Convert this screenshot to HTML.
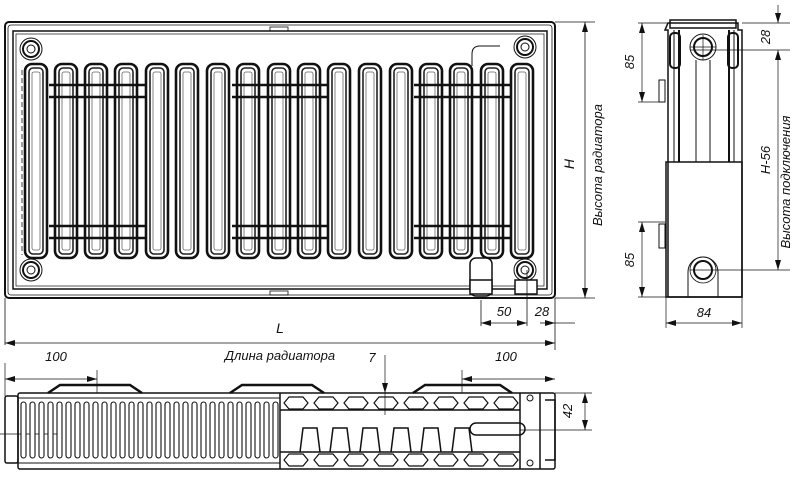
<!DOCTYPE html>
<html><head><meta charset="utf-8"><style>
html,body{margin:0;padding:0;background:#fff;width:796px;height:479px;overflow:hidden}
svg{display:block}
text{font-family:"Liberation Sans","DejaVu Sans",sans-serif;font-style:italic;fill:#111}
</style></head><body>
<svg width="796" height="479" viewBox="0 0 796 479" xmlns="http://www.w3.org/2000/svg">
<defs>
<marker id="a" viewBox="0 0 10 6" refX="10" refY="3" markerWidth="10" markerHeight="6" orient="auto-start-reverse" markerUnits="userSpaceOnUse"><path d="M0,0 L10,3 L0,6 z" fill="#111"/></marker>
<g id="tube"><rect x="0" y="0" width="22" height="194" rx="7" fill="#fff" stroke="#111" stroke-width="2.6"/><rect x="4" y="4" width="14" height="186" rx="4" fill="#fff" stroke="#222" stroke-width="1.6"/><rect x="7" y="8" width="8" height="178" rx="2" fill="#fff" stroke="#666" stroke-width="0.8"/></g>
<g id="fin"><rect x="0" y="0" width="5" height="56" rx="2.5" fill="#fff" stroke="#111" stroke-width="1.1"/></g>
<path id="hex" d="M0 7 l5-6 h14 l5 6 l-5 6 h-14 z" fill="none" stroke="#111" stroke-width="1.2"/>
</defs>
<g fill="none" stroke="#111">
<rect x="5" y="22" width="550" height="276" rx="4" stroke-width="2"/>
<rect x="8" y="25" width="544" height="270" rx="3" stroke-width="0.8"/>
<rect x="13" y="31" width="534" height="258" stroke-width="1.5"/>
<rect x="16" y="34" width="528" height="252" stroke-width="0.7"/>
<line x1="22" y1="70" x2="22" y2="255" stroke-dasharray="5,3" stroke-width="0.8"/>
<rect x="270" y="27" width="18" height="4" stroke-width="0.8"/>
<rect x="270" y="291" width="18" height="4" stroke-width="0.8"/>
</g>
<g>
<use href="#tube" x="25" y="64"/><use href="#tube" x="55" y="64"/><use href="#tube" x="85" y="64"/><use href="#tube" x="115" y="64"/><use href="#tube" x="146" y="64"/><use href="#tube" x="176" y="64"/><use href="#tube" x="207" y="64"/><use href="#tube" x="237" y="64"/><use href="#tube" x="268" y="64"/><use href="#tube" x="298" y="64"/><use href="#tube" x="328" y="64"/><use href="#tube" x="359" y="64"/><use href="#tube" x="390" y="64"/><use href="#tube" x="420" y="64"/><use href="#tube" x="450" y="64"/><use href="#tube" x="481" y="64"/><use href="#tube" x="511" y="64"/>
</g>
<g stroke="#111" stroke-width="2.5">
<line x1="49" y1="85" x2="145" y2="85"/><line x1="49" y1="97" x2="145" y2="97"/>
<line x1="49" y1="226" x2="145" y2="226"/><line x1="49" y1="238" x2="145" y2="238"/>
<line x1="232" y1="85" x2="327" y2="85"/><line x1="232" y1="97" x2="327" y2="97"/>
<line x1="232" y1="226" x2="327" y2="226"/><line x1="232" y1="238" x2="327" y2="238"/>
<line x1="414" y1="85" x2="510" y2="85"/><line x1="414" y1="97" x2="510" y2="97"/>
<line x1="414" y1="226" x2="510" y2="226"/><line x1="414" y1="238" x2="510" y2="238"/>
</g>
<g fill="#fff" stroke="#111">
<circle cx="31" cy="49" r="11" stroke-width="1"/><circle cx="31" cy="49" r="8" stroke-width="2"/><circle cx="31" cy="49" r="4"/>
<circle cx="31" cy="270" r="11" stroke-width="1"/><circle cx="31" cy="270" r="8" stroke-width="2"/><circle cx="31" cy="270" r="4"/>
<circle cx="525" cy="47" r="11" stroke-width="1"/><circle cx="525" cy="47" r="8" stroke-width="2"/><circle cx="525" cy="47" r="4"/>
<circle cx="525" cy="270" r="11" stroke-width="1"/><circle cx="525" cy="270" r="8" stroke-width="2"/><circle cx="525" cy="270" r="4"/>
<path d="M472 66 v-12 q0-8 8-8 h20" fill="none"/>
<rect x="470" y="258" width="22" height="38" rx="6" stroke-width="1.5"/>
<rect x="470" y="280" width="22" height="14" stroke-width="1.5"/>
<rect x="515" y="280" width="22" height="14" stroke-width="1.5"/>
</g>
<g stroke="#111" stroke-width="0.8" fill="none">
<line x1="555" y1="22" x2="595" y2="22"/><line x1="555" y1="298" x2="595" y2="298"/>
<line x1="585" y1="22" x2="585" y2="298" marker-start="url(#a)" marker-end="url(#a)"/>
<line x1="5" y1="298" x2="5" y2="345"/><line x1="555" y1="298" x2="555" y2="350"/>
<line x1="5" y1="343" x2="555" y2="343" marker-start="url(#a)" marker-end="url(#a)"/>
<line x1="481" y1="300" x2="481" y2="326"/><line x1="527" y1="270" x2="527" y2="326"/>
<line x1="481" y1="323" x2="527" y2="323" marker-start="url(#a)" marker-end="url(#a)"/>
<line x1="540" y1="323" x2="555" y2="323" marker-end="url(#a)"/><line x1="555" y1="323" x2="575" y2="323"/>
</g>
<text x="574" y="164" font-size="14" transform="rotate(-90 574 164)" text-anchor="middle">H</text>
<text x="602" y="165" font-size="13" transform="rotate(-90 602 165)" text-anchor="middle">Высота радиатора</text>
<text x="280" y="333" font-size="14" text-anchor="middle">L</text>
<text x="280" y="360" font-size="13" text-anchor="middle">Длина радиатора</text>
<text x="504" y="316" font-size="13" text-anchor="middle">50</text>
<text x="542" y="316" font-size="13" text-anchor="middle">28</text>
<g fill="none" stroke="#111">
<path d="M668 23 h70 v7 h4 v267 h-74 v-267 h-3 z" stroke-width="1.5"/>
<rect x="670" y="20" width="66" height="8" stroke-width="1.5"/>
<rect x="666" y="162" width="76" height="135" stroke-width="1.5"/>
<line x1="674" y1="30" x2="674" y2="162"/><line x1="679" y1="30" x2="679" y2="162" stroke-width="2"/>
<line x1="734" y1="30" x2="734" y2="162"/><line x1="729" y1="30" x2="729" y2="162" stroke-width="2"/>
<line x1="696" y1="60" x2="696" y2="162"/><line x1="710" y1="60" x2="710" y2="162"/>
<rect x="670" y="33" width="10" height="35" rx="4" stroke-width="2"/>
<rect x="728" y="33" width="10" height="35" rx="4" stroke-width="2"/>
<circle cx="703" cy="47" r="13" stroke-width="1"/><circle cx="703" cy="47" r="9" stroke-width="2"/>
<path d="M688 297 v-25 a15 15 0 0 1 30 0 v25" stroke-width="1"/>
<circle cx="703" cy="270" r="9" stroke-width="2"/><circle cx="703" cy="270" r="13" stroke-width="0.8"/>
<rect x="659" y="80" width="6" height="22" stroke-width="1"/>
<rect x="659" y="224" width="6" height="24" stroke-width="1"/>
<g stroke-width="0.7">
<line x1="638" y1="23" x2="668" y2="23"/><line x1="638" y1="102" x2="665" y2="102"/>
<line x1="642" y1="23" x2="642" y2="102" marker-start="url(#a)" marker-end="url(#a)"/>
<line x1="638" y1="222" x2="665" y2="222"/><line x1="638" y1="297" x2="668" y2="297"/>
<line x1="642" y1="222" x2="642" y2="297" marker-start="url(#a)" marker-end="url(#a)"/>
<line x1="742" y1="23" x2="790" y2="23"/><line x1="690" y1="50" x2="790" y2="50"/><line x1="690" y1="270" x2="790" y2="270"/>
<line x1="778" y1="5" x2="778" y2="23" marker-end="url(#a)"/>
<line x1="778" y1="50" x2="778" y2="270" marker-start="url(#a)" marker-end="url(#a)"/>
<line x1="666" y1="297" x2="666" y2="328"/><line x1="742" y1="297" x2="742" y2="328"/>
<line x1="666" y1="323" x2="742" y2="323" marker-start="url(#a)" marker-end="url(#a)"/>
<line x1="703" y1="35" x2="703" y2="60"/><line x1="690" y1="47" x2="716" y2="47"/>
</g>
</g>
<text x="634" y="62" font-size="13" transform="rotate(-90 634 62)" text-anchor="middle">85</text>
<text x="634" y="260" font-size="13" transform="rotate(-90 634 260)" text-anchor="middle">85</text>
<text x="770" y="37" font-size="13" transform="rotate(-90 770 37)" text-anchor="middle">28</text>
<text x="770" y="160" font-size="13" transform="rotate(-90 770 160)" text-anchor="middle">H-56</text>
<text x="790" y="182" font-size="13" transform="rotate(-90 790 182)" text-anchor="middle">Высота подключения</text>
<text x="704" y="317" font-size="13" text-anchor="middle">84</text>
<g fill="none" stroke="#111">
<rect x="5" y="396" width="13" height="67" rx="2" stroke-width="1.5"/>
<rect x="18" y="393" width="537" height="76" rx="2" stroke-width="1.5"/>
<line x1="18" y1="398" x2="280" y2="398"/><line x1="18" y1="463" x2="280" y2="463"/>
<path d="M48 393 l12-8 h70 l12 8" stroke-width="2.5"/>
<path d="M230 393 l12-8 h70 l12 8" stroke-width="2.5"/>
<path d="M413 393 l12-8 h75 l12 8" stroke-width="2.5"/>
<line x1="280" y1="393" x2="280" y2="469" stroke-width="1.5"/>
<line x1="280" y1="410" x2="520" y2="410" stroke-width="1.5"/>
<line x1="280" y1="452" x2="520" y2="452" stroke-width="1.5"/>
<path d="M300 452 l3-24 h14 l3 24 M330 452 l3-24 h14 l3 24 M360 452 l3-24 h14 l3 24 M391 452 l3-24 h14 l3 24 M421 452 l3-24 h14 l3 24 M452 452 l3-24 h14 l3 24" stroke-width="1.5"/>
<rect x="470" y="423" width="55" height="12" rx="6" stroke-width="1.5"/>
<path d="M520 393 v76 M540 393 v76 M545 400 h10 v60 h-10" stroke-width="1.5"/>
<circle cx="530" cy="398" r="3"/><circle cx="530" cy="463" r="3"/>
<g stroke-width="0.7">
<line x1="5" y1="363" x2="5" y2="396"/><line x1="97" y1="370" x2="97" y2="393"/>
<line x1="5" y1="379" x2="97" y2="379" marker-start="url(#a)" marker-end="url(#a)"/>
<line x1="462" y1="370" x2="462" y2="393"/>
<line x1="462" y1="379" x2="555" y2="379" marker-start="url(#a)" marker-end="url(#a)"/>
<line x1="385" y1="355" x2="385" y2="393" marker-end="url(#a)"/>
<line x1="385" y1="393" x2="385" y2="415"/>
<line x1="555" y1="393" x2="592" y2="393"/><line x1="520" y1="430" x2="592" y2="430"/>
<line x1="585" y1="393" x2="585" y2="430" marker-start="url(#a)" marker-end="url(#a)"/>
<line x1="0" y1="434" x2="60" y2="434"/>
</g>
</g>
<g>
<use href="#hex" x="284" y="396"/><use href="#hex" x="314" y="396"/><use href="#hex" x="344" y="396"/><use href="#hex" x="374" y="396"/><use href="#hex" x="404" y="396"/><use href="#hex" x="434" y="396"/><use href="#hex" x="464" y="396"/><use href="#hex" x="494" y="396"/>
<use href="#hex" x="284" y="453"/><use href="#hex" x="314" y="453"/><use href="#hex" x="344" y="453"/><use href="#hex" x="374" y="453"/><use href="#hex" x="404" y="453"/><use href="#hex" x="434" y="453"/><use href="#hex" x="464" y="453"/><use href="#hex" x="494" y="453"/>
</g>
<g>
<use href="#fin" x="21" y="402"/><use href="#fin" x="30" y="402"/><use href="#fin" x="39" y="402"/><use href="#fin" x="48" y="402"/><use href="#fin" x="57" y="402"/><use href="#fin" x="66" y="402"/><use href="#fin" x="75" y="402"/><use href="#fin" x="84" y="402"/><use href="#fin" x="93" y="402"/><use href="#fin" x="102" y="402"/><use href="#fin" x="111" y="402"/><use href="#fin" x="120" y="402"/><use href="#fin" x="129" y="402"/><use href="#fin" x="138" y="402"/><use href="#fin" x="147" y="402"/><use href="#fin" x="156" y="402"/><use href="#fin" x="165" y="402"/><use href="#fin" x="174" y="402"/><use href="#fin" x="183" y="402"/><use href="#fin" x="192" y="402"/><use href="#fin" x="201" y="402"/><use href="#fin" x="210" y="402"/><use href="#fin" x="219" y="402"/><use href="#fin" x="228" y="402"/><use href="#fin" x="237" y="402"/><use href="#fin" x="246" y="402"/><use href="#fin" x="255" y="402"/><use href="#fin" x="264" y="402"/><use href="#fin" x="273" y="402"/>
</g>
<text x="56" y="361" font-size="13" text-anchor="middle">100</text>
<text x="506" y="361" font-size="13" text-anchor="middle">100</text>
<text x="372" y="362" font-size="13" text-anchor="middle">7</text>
<text x="572" y="411" font-size="13" transform="rotate(-90 572 411)" text-anchor="middle">42</text>
</svg>
</body></html>
